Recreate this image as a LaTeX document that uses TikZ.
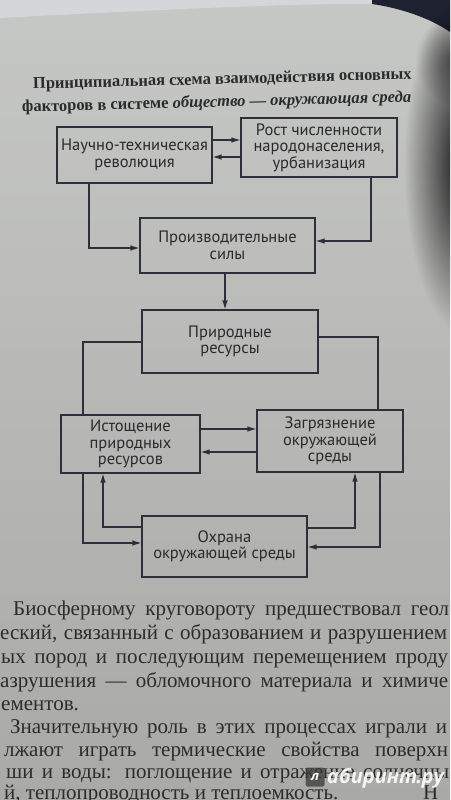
\documentclass[tikz,border=0pt]{standalone}
\usepackage{fontspec}
\setmainfont{Liberation Serif}
\newfontfamily\boxfont{PT Sans}
\newfontfamily\wmfont{Open Sans}
\usetikzlibrary{arrows.meta,fadings}
\definecolor{papertop}{HTML}{C6C8C6}
\definecolor{paperbot}{HTML}{A9A9A6}
\definecolor{linec}{HTML}{2E2F3A}
\definecolor{txtc}{HTML}{2A2A2C}
\definecolor{bodyc}{HTML}{2C2C2C}
\definecolor{skyc}{HTML}{D4D7D9}
\definecolor{cornerc}{HTML}{1E2230}
\tikzfading[name=glow, inner color=transparent!0, outer color=transparent!100]
\begin{document}
\begin{tikzpicture}[x=1pt,y=-1pt,
  blk/.style={draw=linec, line width=1.1pt, align=center, text=txtc,
    font=\boxfont\fontsize{16.5}{16.5}\selectfont, inner sep=0pt},
  conn/.style={draw=linec, line width=1.1pt},
  arr/.style={conn, -{Latex[length=9pt,width=5.5pt]}},
  bodyline/.style={anchor=base west, inner sep=0pt, text=bodyc,
    font=\fontsize{21}{22}\selectfont},
  titleline/.style={anchor=base west, inner sep=0pt, text=txtc, rotate=1.5,
    font=\bfseries\fontsize{16.5}{20}\selectfont},
]
\useasboundingbox (0,0) rectangle (450,800);
\begin{scope}
\clip (0,0) rectangle (450,800);
% paper
\shade[top color=papertop, bottom color=paperbot] (0,0) rectangle (450,800);
% above the page edge
\fill[skyc] (0,0) -- (0,18) .. controls (150,10) and (300,3) .. (375,4) -- (375,0) -- cycle;
\fill[cornerc] (372,0) -- (450,0) -- (450,32) .. controls (430,18) and (400,8) .. (372,4) -- cycle;
% shadow on the right
\fill[black, opacity=0.95, path fading=glow] (466,165) ellipse (62 and 170);
\fill[black, opacity=0.5, path fading=glow] (455,60) ellipse (40 and 45);

% title
\node[titleline] (t1) at (33,89) {Принципиальная схема взаимодействия основных};
\node[titleline] (t2) at (22,112) {факторов в системе \textit{общество — окружающая среда}};

% boxes
\node[blk, minimum width=155pt, minimum height=56pt] (ntr) at (134.5,155) {Научно-техническая\\революция};
\node[blk, minimum width=156pt, minimum height=59pt] (rost) at (319,147.5) {Рост численности\\народонаселения,\\урбанизация};
\node[blk, minimum width=175pt, minimum height=55pt] (prs) at (227.5,245.5) {Производительные\\силы};
\node[blk, minimum width=176pt, minimum height=63pt] (res) at (230,341.5) {Природные\\ресурсы};
\node[blk, minimum width=139pt, minimum height=58pt] (ist) at (130.5,444) {Истощение\\природных\\ресурсов};
\node[blk, minimum width=146pt, minimum height=62pt] (zag) at (330,441) {Загрязнение\\окружающей\\среды};
\node[blk, minimum width=165pt, minimum height=61pt] (ohr) at (224.5,546.5) {Охрана\\окружающей среды};

% connectors
\draw[arr] (ntr.east |- 0,140) -- (rost.west |- 0,140);
\draw[arr] (rost.west |- 0,157) -- (ntr.east |- 0,157);
\draw[arr] (ntr.south -| 89,0) |- (prs.west |- 0,248);
\draw[arr] (rost.south -| 371,0) |- (prs.east |- 0,241);
\draw[arr] (prs.south -| 225,0) -- (res.north -| 225,0);
\draw[conn] (res.west |- 0,342) -| (ist.north -| 83,0);
\draw[conn] (res.east |- 0,337) -| (zag.north -| 378,0);
\draw[arr] (ist.east |- 0,429) -- (zag.west |- 0,429);
\draw[arr] (zag.west |- 0,452) -- (ist.east |- 0,452);
\draw[arr] (ist.south -| 83,0) |- (ohr.west |- 0,543);
\draw[arr] (ohr.west |- 0,527) -| (ist.south -| 103,0);
\draw[arr] (ohr.east |- 0,528) -| (zag.south -| 355,0);
\draw[arr] (zag.south -| 380,0) |- (ohr.east |- 0,547);

% body text
\node[bodyline] (b1) at (13,615) {\makebox[436pt][s]{Биосферному круговороту предшествовал геол}};
\node[bodyline] (b2) at (0,639) {\makebox[447pt][s]{еский, связанный с образованием и разрушением}};
\node[bodyline] (b3) at (1,663) {\makebox[447pt][s]{ых пород и последующим перемещением проду}};
\node[bodyline] (b4) at (0,687) {\makebox[448pt][s]{азрушения — обломочного материала и химиче}};
\node[bodyline] (b5) at (1,710) {ементов.};
\node[bodyline] (b6) at (10,733) {\makebox[437pt][s]{Значительную роль в этих процессах играли и}};
\node[bodyline] (b7) at (4,756) {\makebox[444pt][s]{лжают играть термические свойства поверхн}};
\node[bodyline] (b8) at (6,778) {\makebox[443pt][s]{ши и воды: поглощение и отражение солнечны}};
\node[bodyline] (b9) at (4,799) {\makebox[434pt][l]{й, теплопроводность и теплоемкость.\hfill Н}};

% watermark
\node[fill=gray!45!black, opacity=0.75, rounded corners=2pt, minimum size=19pt, inner sep=0pt] (wmlogo) at (315,777) {};
\node[text=white, font=\wmfont\bfseries\itshape\fontsize{13}{13}\selectfont] (wml) at (wmlogo) {л};
\node[anchor=west, text=white, opacity=0.9, inner sep=0pt,
  font=\wmfont\bfseries\itshape\fontsize{20}{20}\selectfont] (wm) at (327,778) {абиринт.ру};
\end{scope}
\end{tikzpicture}
\end{document}
